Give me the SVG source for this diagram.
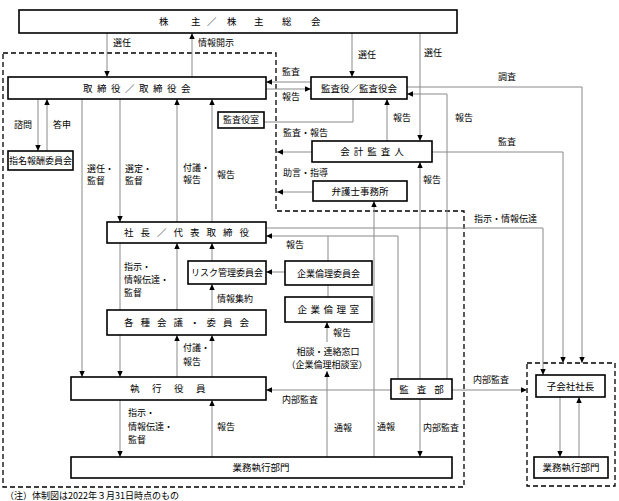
<svg xmlns="http://www.w3.org/2000/svg" width="619" height="501" viewBox="0 0 619 501">
<style>
.box{fill:#fff;stroke:#000;stroke-width:1.6}
.dash{fill:none;stroke:#000;stroke-width:1.3;stroke-dasharray:5 3}
.ln{fill:none;stroke:#8a8a8a;stroke-width:1}
.t{font-family:"Noto Sans CJK JP","Noto Sans",sans-serif;font-size:9.5px;fill:#000}
.l{font-family:"Noto Sans CJK JP","Noto Sans",sans-serif;font-size:9px;fill:#000}
.m{text-anchor:middle}
</style>
<defs>
<marker id="ah" markerUnits="userSpaceOnUse" markerWidth="6" markerHeight="6" viewBox="0 0 6 6" refX="6" refY="3" orient="auto">
<path d="M0,0.3 L6,3 L0,5.7 Z" fill="#000"/>
</marker>
</defs>

<g id="boundaries">
<path class="dash" d="M3,53 H276 V211 H464 V487 H3 Z"/>
<rect class="dash" x="527" y="363" width="88" height="123"/>
</g>

<g id="connectors">
<path class="ln" d="M107,33 V77" marker-end="url(#ah)"/>
<path class="ln" d="M192,77 V33" marker-end="url(#ah)"/>
<path class="ln" d="M352,33 V77" marker-end="url(#ah)"/>
<path class="ln" d="M420,33 V141" marker-end="url(#ah)"/>
<path class="ln" d="M311,82 H266" marker-end="url(#ah)"/>
<path class="ln" d="M266,89 H311" marker-end="url(#ah)"/>
<path class="ln" d="M264,122 H353 V99"/>
<path class="ln" d="M407,87 H582 V363" marker-end="url(#ah)"/>
<path class="ln" d="M447,379 V94 H407" marker-end="url(#ah)"/>
<path class="ln" d="M387,141 V99" marker-end="url(#ah)"/>
<path class="ln" d="M420,379 V162" marker-end="url(#ah)"/>
<path class="ln" d="M312,152 H277" marker-end="url(#ah)"/>
<path class="ln" d="M313,192 H277" marker-end="url(#ah)"/>
<path class="ln" d="M432,152 H563 V363" marker-end="url(#ah)"/>
<path class="ln" d="M38,99 V151" marker-end="url(#ah)"/>
<path class="ln" d="M47,151 V99" marker-end="url(#ah)"/>
<path class="ln" d="M82,99 V377" marker-end="url(#ah)"/>
<path class="ln" d="M120,99 V222" marker-end="url(#ah)"/>
<path class="ln" d="M177,222 V99" marker-end="url(#ah)"/>
<path class="ln" d="M212,222 V99" marker-end="url(#ah)"/>
<path class="ln" d="M266,228 H543 V375" marker-end="url(#ah)"/>
<path class="ln" d="M398,379 V236 H266" marker-end="url(#ah)"/>
<path class="ln" d="M328,261 V236"/>
<path class="ln" d="M285,272 H266" marker-end="url(#ah)"/>
<path class="ln" d="M328,285 V297"/>
<path class="ln" d="M327,342 V322" marker-end="url(#ah)"/>
<path class="ln" d="M327,457 V371" marker-end="url(#ah)"/>
<path class="ln" d="M374,457 V201" marker-end="url(#ah)"/>
<path class="ln" d="M120,243 V377" marker-end="url(#ah)"/>
<path class="ln" d="M177,310 V243" marker-end="url(#ah)"/>
<path class="ln" d="M212,261 V243" marker-end="url(#ah)"/>
<path class="ln" d="M212,310 V284" marker-end="url(#ah)"/>
<path class="ln" d="M177,377 V335" marker-end="url(#ah)"/>
<path class="ln" d="M212,377 V335" marker-end="url(#ah)"/>
<path class="ln" d="M120,400 V457" marker-end="url(#ah)"/>
<path class="ln" d="M212,457 V400" marker-end="url(#ah)"/>
<path class="ln" d="M391,390 H266" marker-end="url(#ah)"/>
<path class="ln" d="M452,390 H527" marker-end="url(#ah)"/>
<path class="ln" d="M420,399 V457" marker-end="url(#ah)"/>
<path class="ln" d="M560,397 V457" marker-end="url(#ah)"/>
<path class="ln" d="M579,457 V397" marker-end="url(#ah)"/>
</g>

<g id="shareholders">
<rect class="box" x="19" y="10" width="438" height="23"/>
<text class="t" x="159 191 207 227 254 282 311" y="25">株主／株主総会</text>
</g>
<g id="board">
<rect class="box" x="8" y="77" width="258" height="22"/>
<text class="t m" x="139" y="91.5" letter-spacing="4.5">取締役／取締役会</text>
</g>
<g id="audit-board">
<rect class="box" x="311" y="77" width="96" height="22"/>
<text class="t m" x="359" y="91.5">監査役／監査役会</text>
</g>
<g id="audit-office">
<rect class="box" x="218" y="112" width="46" height="16"/>
<text class="l m" x="241" y="123.4">監査役室</text>
</g>
<g id="nomination-committee">
<rect class="box" x="8" y="151" width="65" height="19"/>
<text class="l m" x="40.5" y="164" font-size="8.5">指名報酬委員会</text>
</g>
<g id="accounting-auditor">
<rect class="box" x="312" y="141" width="120" height="21"/>
<text class="t m" x="374" y="155" letter-spacing="4">会計監査人</text>
</g>
<g id="law-office">
<rect class="box" x="313" y="181" width="94" height="20"/>
<text class="t m" x="360" y="194.5">弁護士事務所</text>
</g>
<g id="president">
<rect class="box" x="107" y="222" width="159" height="21"/>
<text class="t m" x="190" y="236" letter-spacing="7">社長／代表取締役</text>
</g>
<g id="risk-committee">
<rect class="box" x="188" y="261" width="78" height="23"/>
<text class="l m" x="227" y="276">リスク管理委員会</text>
</g>
<g id="ethics-committee">
<rect class="box" x="285" y="261" width="87" height="24"/>
<text class="l m" x="328.5" y="276.5">企業倫理委員会</text>
</g>
<g id="ethics-office">
<rect class="box" x="285" y="297" width="87" height="25"/>
<text class="t m" x="330" y="313" letter-spacing="3.5">企業倫理室</text>
</g>
<g id="meetings">
<rect class="box" x="107" y="310" width="159" height="25"/>
<text class="t m" x="190" y="326" letter-spacing="7">各種会議・委員会</text>
</g>
<g id="executive-officers">
<rect class="box" x="71" y="377" width="195" height="23"/>
<text class="t m" x="174" y="392" letter-spacing="12.5">執行役員</text>
</g>
<g id="audit-department">
<rect class="box" x="391" y="379" width="61" height="20"/>
<text class="t m" x="425.5" y="392.5" letter-spacing="8">監査部</text>
</g>
<g id="business-departments">
<rect class="box" x="71" y="457" width="381" height="21"/>
<text class="t m" x="261" y="471">業務執行部門</text>
</g>
<g id="subsidiary-president">
<rect class="box" x="536" y="375" width="69" height="22"/>
<text class="t m" x="570.5" y="389.5">子会社社長</text>
</g>
<g id="subsidiary-business">
<rect class="box" x="534" y="457" width="74" height="21"/>
<text class="t m" x="571" y="471">業務執行部門</text>
</g>

<g id="labels">
<text class="l" x="113" y="46.4">選任</text>
<text class="l" x="198" y="46.4">情報開示</text>
<text class="l" x="358" y="58.4">選任</text>
<text class="l" x="424" y="56.4">選任</text>
<text class="l" x="498" y="80.4">調査</text>
<text class="l" x="282" y="75.4">監査</text>
<text class="l" x="282" y="100.4">報告</text>
<text class="l" x="393" y="121.4">報告</text>
<text class="l" x="455" y="121.4">報告</text>
<text class="l" x="283" y="136.4">監査・報告</text>
<text class="l" x="498" y="145.4">監査</text>
<text class="l" x="283" y="176.4">助言・指導</text>
<text class="l" x="423" y="183.4">報告</text>
<text class="l" x="474" y="222.4">指示・情報伝達</text>
<text class="l" x="286" y="248.4">報告</text>
<text class="l" x="14" y="128.4">諮問</text>
<text class="l" x="53" y="128.4">答申</text>
<text class="l" x="87" y="172.4">選任・</text>
<text class="l" x="87" y="184.4">監督</text>
<text class="l" x="125" y="172.4">選定・</text>
<text class="l" x="125" y="184.4">監督</text>
<text class="l" x="183" y="171.4">付議・</text>
<text class="l" x="183" y="183.4">報告</text>
<text class="l" x="217" y="178.4">報告</text>
<text class="l" x="124" y="270.4">指示・</text>
<text class="l" x="124" y="283.4">情報伝達・</text>
<text class="l" x="124" y="296.4">監督</text>
<text class="l" x="217" y="302.4">情報集約</text>
<text class="l" x="183" y="351.4">付議・</text>
<text class="l" x="183" y="365.4">報告</text>
<text class="l" x="333" y="336.4">報告</text>
<text class="l m" x="328" y="355.4">相談・連絡窓口</text>
<text class="l m" x="327" y="368.4">（企業倫理相談室）</text>
<text class="l" x="282" y="403.4">内部監査</text>
<text class="l" x="473" y="383.4">内部監査</text>
<text class="l" x="423" y="431.4">内部監査</text>
<text class="l" x="334" y="431.4">通報</text>
<text class="l" x="377" y="430.4">通報</text>
<text class="l" x="128" y="416.4">指示・</text>
<text class="l" x="128" y="430.4">情報伝達・</text>
<text class="l" x="128" y="443.4">監督</text>
<text class="l" x="217" y="430.4">報告</text>
<text class="l" x="5" y="499">（注）体制図は2022年３月31日時点のもの</text>
</g>
</svg>
